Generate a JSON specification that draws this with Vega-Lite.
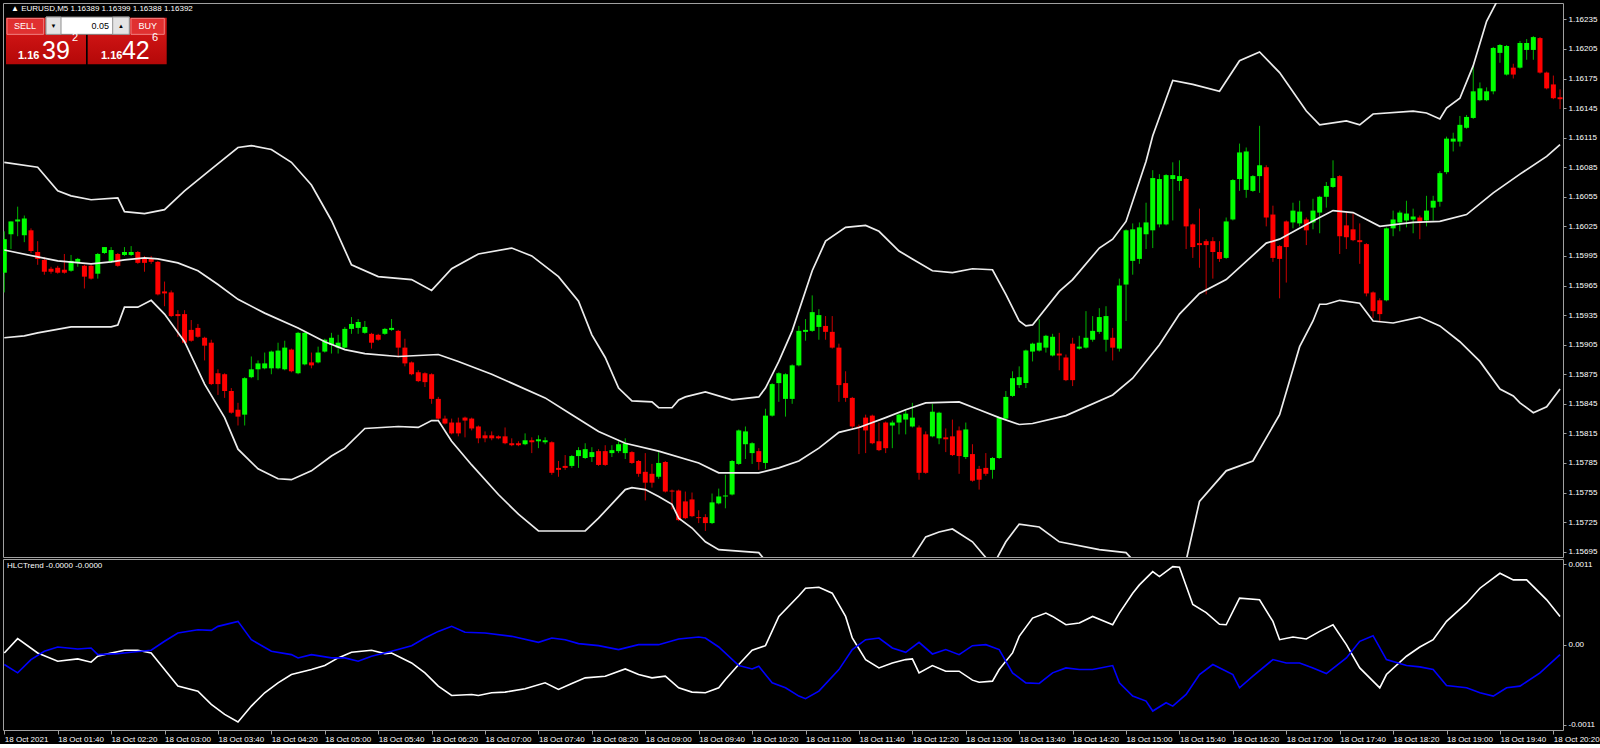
{
"$schema":"https://vega.github.io/schema/vega-lite/v6.json",
"background":"#000000",
"padding":{"left":2,"top":2,"right":0,"bottom":0},
"spacing":0,
"config":{
 "view":{"stroke":"#a0a0a0","strokeWidth":1},
 "scale":{"continuousPadding":0},
 "axis":{"labelFont":"Liberation Sans","labelFontSize":8,"labelColor":"#ffffff","tickColor":"#a0a0a0","domainColor":"#a0a0a0","grid":false,"labelOverlap":false,"labelFlush":false},
 "text":{"font":"Liberation Sans","color":"#ffffff"}
},
"datasets":{
"candles":[
{"t":"2021-10-18T01:00","o":1.15978,"h":1.16020,"l":1.15958,"c":1.16012},
{"t":"2021-10-18T01:05","o":1.16017,"h":1.16030,"l":1.16002,"c":1.16030},
{"t":"2021-10-18T01:10","o":1.16030,"h":1.16045,"l":1.16015,"c":1.16032},
{"t":"2021-10-18T01:15","o":1.16016,"h":1.16036,"l":1.16009,"c":1.16033},
{"t":"2021-10-18T01:20","o":1.16021,"h":1.16023,"l":1.15998,"c":1.16000},
{"t":"2021-10-18T01:25","o":1.15999,"h":1.16010,"l":1.15986,"c":1.15992},
{"t":"2021-10-18T01:30","o":1.15991,"h":1.15994,"l":1.15976,"c":1.15979},
{"t":"2021-10-18T01:35","o":1.15982,"h":1.15984,"l":1.15977,"c":1.15979},
{"t":"2021-10-18T01:40","o":1.15983,"h":1.15985,"l":1.15977,"c":1.15978},
{"t":"2021-10-18T01:45","o":1.15981,"h":1.15997,"l":1.15977,"c":1.15978},
{"t":"2021-10-18T01:50","o":1.15980,"h":1.15996,"l":1.15979,"c":1.15990},
{"t":"2021-10-18T01:55","o":1.15989,"h":1.15993,"l":1.15984,"c":1.15992},
{"t":"2021-10-18T02:00","o":1.15985,"h":1.15986,"l":1.15962,"c":1.15974},
{"t":"2021-10-18T02:05","o":1.15985,"h":1.15986,"l":1.15971,"c":1.15972},
{"t":"2021-10-18T02:10","o":1.15977,"h":1.15998,"l":1.15972,"c":1.15997},
{"t":"2021-10-18T02:15","o":1.15998,"h":1.16004,"l":1.15997,"c":1.16004},
{"t":"2021-10-18T02:20","o":1.15989,"h":1.16004,"l":1.15988,"c":1.16001},
{"t":"2021-10-18T02:25","o":1.15997,"h":1.15998,"l":1.15984,"c":1.15985},
{"t":"2021-10-18T02:30","o":1.15996,"h":1.16004,"l":1.15995,"c":1.15999},
{"t":"2021-10-18T02:35","o":1.15996,"h":1.16005,"l":1.15995,"c":1.15999},
{"t":"2021-10-18T02:40","o":1.15999,"h":1.16000,"l":1.15987,"c":1.15988},
{"t":"2021-10-18T02:45","o":1.15993,"h":1.15995,"l":1.15979,"c":1.15988},
{"t":"2021-10-18T02:50","o":1.15992,"h":1.15995,"l":1.15987,"c":1.15989},
{"t":"2021-10-18T02:55","o":1.15989,"h":1.15990,"l":1.15955,"c":1.15956},
{"t":"2021-10-18T03:00","o":1.15959,"h":1.15969,"l":1.15944,"c":1.15957},
{"t":"2021-10-18T03:05","o":1.15958,"h":1.15960,"l":1.15933,"c":1.15934},
{"t":"2021-10-18T03:10","o":1.15936,"h":1.15940,"l":1.15913,"c":1.15934},
{"t":"2021-10-18T03:15","o":1.15936,"h":1.15940,"l":1.15906,"c":1.15907},
{"t":"2021-10-18T03:20","o":1.15920,"h":1.15930,"l":1.15908,"c":1.15909},
{"t":"2021-10-18T03:25","o":1.15922,"h":1.15926,"l":1.15912,"c":1.15913},
{"t":"2021-10-18T03:30","o":1.15912,"h":1.15913,"l":1.15889,"c":1.15904},
{"t":"2021-10-18T03:35","o":1.15907,"h":1.15910,"l":1.15864,"c":1.15865},
{"t":"2021-10-18T03:40","o":1.15876,"h":1.15880,"l":1.15854,"c":1.15865},
{"t":"2021-10-18T03:45","o":1.15875,"h":1.15876,"l":1.15851,"c":1.15858},
{"t":"2021-10-18T03:50","o":1.15858,"h":1.15861,"l":1.15835,"c":1.15836},
{"t":"2021-10-18T03:55","o":1.15839,"h":1.15846,"l":1.15823,"c":1.15832},
{"t":"2021-10-18T04:00","o":1.15834,"h":1.15872,"l":1.15823,"c":1.15871},
{"t":"2021-10-18T04:05","o":1.15872,"h":1.15893,"l":1.15871,"c":1.15880},
{"t":"2021-10-18T04:10","o":1.15880,"h":1.15889,"l":1.15869,"c":1.15886},
{"t":"2021-10-18T04:15","o":1.15881,"h":1.15897,"l":1.15880,"c":1.15886},
{"t":"2021-10-18T04:20","o":1.15881,"h":1.15899,"l":1.15875,"c":1.15898},
{"t":"2021-10-18T04:25","o":1.15881,"h":1.15907,"l":1.15880,"c":1.15899},
{"t":"2021-10-18T04:30","o":1.15880,"h":1.15909,"l":1.15879,"c":1.15902},
{"t":"2021-10-18T04:35","o":1.15900,"h":1.15901,"l":1.15877,"c":1.15878},
{"t":"2021-10-18T04:40","o":1.15876,"h":1.15918,"l":1.15875,"c":1.15917},
{"t":"2021-10-18T04:45","o":1.15885,"h":1.15918,"l":1.15884,"c":1.15917},
{"t":"2021-10-18T04:50","o":1.15887,"h":1.15897,"l":1.15881,"c":1.15884},
{"t":"2021-10-18T04:55","o":1.15887,"h":1.15903,"l":1.15886,"c":1.15897},
{"t":"2021-10-18T05:00","o":1.15898,"h":1.15911,"l":1.15897,"c":1.15910},
{"t":"2021-10-18T05:05","o":1.15905,"h":1.15917,"l":1.15896,"c":1.15912},
{"t":"2021-10-18T05:10","o":1.15902,"h":1.15915,"l":1.15896,"c":1.15907},
{"t":"2021-10-18T05:15","o":1.15902,"h":1.15923,"l":1.15901,"c":1.15921},
{"t":"2021-10-18T05:20","o":1.15921,"h":1.15933,"l":1.15916,"c":1.15926},
{"t":"2021-10-18T05:25","o":1.15922,"h":1.15931,"l":1.15916,"c":1.15928},
{"t":"2021-10-18T05:30","o":1.15917,"h":1.15929,"l":1.15916,"c":1.15923},
{"t":"2021-10-18T05:35","o":1.15916,"h":1.15917,"l":1.15901,"c":1.15907},
{"t":"2021-10-18T05:40","o":1.15915,"h":1.15916,"l":1.15909,"c":1.15910},
{"t":"2021-10-18T05:45","o":1.15916,"h":1.15922,"l":1.15915,"c":1.15921},
{"t":"2021-10-18T05:50","o":1.15920,"h":1.15931,"l":1.15919,"c":1.15922},
{"t":"2021-10-18T05:55","o":1.15919,"h":1.15920,"l":1.15892,"c":1.15902},
{"t":"2021-10-18T06:00","o":1.15902,"h":1.15911,"l":1.15883,"c":1.15886},
{"t":"2021-10-18T06:05","o":1.15887,"h":1.15888,"l":1.15874,"c":1.15875},
{"t":"2021-10-18T06:10","o":1.15877,"h":1.15879,"l":1.15867,"c":1.15868},
{"t":"2021-10-18T06:15","o":1.15876,"h":1.15877,"l":1.15862,"c":1.15867},
{"t":"2021-10-18T06:20","o":1.15875,"h":1.15876,"l":1.15845,"c":1.15850},
{"t":"2021-10-18T06:25","o":1.15850,"h":1.15852,"l":1.15829,"c":1.15830},
{"t":"2021-10-18T06:30","o":1.15830,"h":1.15833,"l":1.15824,"c":1.15825},
{"t":"2021-10-18T06:35","o":1.15826,"h":1.15830,"l":1.15814,"c":1.15815},
{"t":"2021-10-18T06:40","o":1.15826,"h":1.15831,"l":1.15812,"c":1.15815},
{"t":"2021-10-18T06:45","o":1.15831,"h":1.15832,"l":1.15811,"c":1.15828},
{"t":"2021-10-18T06:50","o":1.15830,"h":1.15831,"l":1.15818,"c":1.15820},
{"t":"2021-10-18T06:55","o":1.15822,"h":1.15823,"l":1.15805,"c":1.15810},
{"t":"2021-10-18T07:00","o":1.15813,"h":1.15817,"l":1.15806,"c":1.15810},
{"t":"2021-10-18T07:05","o":1.15813,"h":1.15817,"l":1.15808,"c":1.15810},
{"t":"2021-10-18T07:10","o":1.15812,"h":1.15813,"l":1.15809,"c":1.15810},
{"t":"2021-10-18T07:15","o":1.15812,"h":1.15821,"l":1.15804,"c":1.15805},
{"t":"2021-10-18T07:20","o":1.15805,"h":1.15810,"l":1.15802,"c":1.15803},
{"t":"2021-10-18T07:25","o":1.15805,"h":1.15807,"l":1.15802,"c":1.15803},
{"t":"2021-10-18T07:30","o":1.15804,"h":1.15815,"l":1.15803,"c":1.15808},
{"t":"2021-10-18T07:35","o":1.15808,"h":1.15811,"l":1.15795,"c":1.15806},
{"t":"2021-10-18T07:40","o":1.15807,"h":1.15813,"l":1.15800,"c":1.15809},
{"t":"2021-10-18T07:45","o":1.15806,"h":1.15811,"l":1.15804,"c":1.15808},
{"t":"2021-10-18T07:50","o":1.15806,"h":1.15807,"l":1.15773,"c":1.15775},
{"t":"2021-10-18T07:55","o":1.15780,"h":1.15787,"l":1.15771,"c":1.15778},
{"t":"2021-10-18T08:00","o":1.15782,"h":1.15793,"l":1.15778,"c":1.15780},
{"t":"2021-10-18T08:05","o":1.15782,"h":1.15793,"l":1.15780,"c":1.15792},
{"t":"2021-10-18T08:10","o":1.15792,"h":1.15801,"l":1.15780,"c":1.15798},
{"t":"2021-10-18T08:15","o":1.15790,"h":1.15805,"l":1.15789,"c":1.15799},
{"t":"2021-10-18T08:20","o":1.15791,"h":1.15801,"l":1.15786,"c":1.15796},
{"t":"2021-10-18T08:25","o":1.15797,"h":1.15799,"l":1.15782,"c":1.15783},
{"t":"2021-10-18T08:30","o":1.15797,"h":1.15803,"l":1.15782,"c":1.15783},
{"t":"2021-10-18T08:35","o":1.15795,"h":1.15803,"l":1.15791,"c":1.15798},
{"t":"2021-10-18T08:40","o":1.15797,"h":1.15807,"l":1.15795,"c":1.15804},
{"t":"2021-10-18T08:45","o":1.15795,"h":1.15810,"l":1.15789,"c":1.15805},
{"t":"2021-10-18T08:50","o":1.15796,"h":1.15797,"l":1.15784,"c":1.15785},
{"t":"2021-10-18T08:55","o":1.15787,"h":1.15788,"l":1.15771,"c":1.15774},
{"t":"2021-10-18T09:00","o":1.15776,"h":1.15795,"l":1.15747,"c":1.15765},
{"t":"2021-10-18T09:05","o":1.15774,"h":1.15784,"l":1.15760,"c":1.15765},
{"t":"2021-10-18T09:10","o":1.15771,"h":1.15796,"l":1.15769,"c":1.15785},
{"t":"2021-10-18T09:15","o":1.15786,"h":1.15787,"l":1.15755,"c":1.15756},
{"t":"2021-10-18T09:20","o":1.15757,"h":1.15758,"l":1.15738,"c":1.15756},
{"t":"2021-10-18T09:25","o":1.15757,"h":1.15758,"l":1.15726,"c":1.15727},
{"t":"2021-10-18T09:30","o":1.15746,"h":1.15756,"l":1.15728,"c":1.15729},
{"t":"2021-10-18T09:35","o":1.15748,"h":1.15755,"l":1.15730,"c":1.15731},
{"t":"2021-10-18T09:40","o":1.15730,"h":1.15737,"l":1.15724,"c":1.15729},
{"t":"2021-10-18T09:45","o":1.15730,"h":1.15733,"l":1.15716,"c":1.15724},
{"t":"2021-10-18T09:50","o":1.15724,"h":1.15754,"l":1.15723,"c":1.15745},
{"t":"2021-10-18T09:55","o":1.15744,"h":1.15759,"l":1.15743,"c":1.15751},
{"t":"2021-10-18T10:00","o":1.15751,"h":1.15773,"l":1.15739,"c":1.15752},
{"t":"2021-10-18T10:05","o":1.15753,"h":1.15788,"l":1.15752,"c":1.15787},
{"t":"2021-10-18T10:10","o":1.15784,"h":1.15819,"l":1.15783,"c":1.15818},
{"t":"2021-10-18T10:15","o":1.15804,"h":1.15822,"l":1.15789,"c":1.15817},
{"t":"2021-10-18T10:20","o":1.15795,"h":1.15806,"l":1.15784,"c":1.15805},
{"t":"2021-10-18T10:25","o":1.15797,"h":1.15800,"l":1.15778,"c":1.15786},
{"t":"2021-10-18T10:30","o":1.15785,"h":1.15840,"l":1.15779,"c":1.15833},
{"t":"2021-10-18T10:35","o":1.15833,"h":1.15866,"l":1.15832,"c":1.15865},
{"t":"2021-10-18T10:40","o":1.15866,"h":1.15877,"l":1.15847,"c":1.15876},
{"t":"2021-10-18T10:45","o":1.15850,"h":1.15876,"l":1.15832,"c":1.15875},
{"t":"2021-10-18T10:50","o":1.15850,"h":1.15885,"l":1.15845,"c":1.15884},
{"t":"2021-10-18T10:55","o":1.15884,"h":1.15924,"l":1.15883,"c":1.15919},
{"t":"2021-10-18T11:00","o":1.15918,"h":1.15931,"l":1.15909,"c":1.15920},
{"t":"2021-10-18T11:05","o":1.15919,"h":1.15955,"l":1.15918,"c":1.15938},
{"t":"2021-10-18T11:10","o":1.15923,"h":1.15941,"l":1.15910,"c":1.15935},
{"t":"2021-10-18T11:15","o":1.15924,"h":1.15934,"l":1.15910,"c":1.15918},
{"t":"2021-10-18T11:20","o":1.15918,"h":1.15934,"l":1.15901,"c":1.15902},
{"t":"2021-10-18T11:25","o":1.15902,"h":1.15906,"l":1.15847,"c":1.15864},
{"t":"2021-10-18T11:30","o":1.15866,"h":1.15878,"l":1.15847,"c":1.15851},
{"t":"2021-10-18T11:35","o":1.15851,"h":1.15852,"l":1.15819,"c":1.15822},
{"t":"2021-10-18T11:40","o":1.15822,"h":1.15824,"l":1.15794,"c":1.15821},
{"t":"2021-10-18T11:45","o":1.15831,"h":1.15834,"l":1.15795,"c":1.15818},
{"t":"2021-10-18T11:50","o":1.15833,"h":1.15834,"l":1.15804,"c":1.15805},
{"t":"2021-10-18T11:55","o":1.15807,"h":1.15826,"l":1.15797,"c":1.15798},
{"t":"2021-10-18T12:00","o":1.15826,"h":1.15827,"l":1.15795,"c":1.15800},
{"t":"2021-10-18T12:05","o":1.15823,"h":1.15828,"l":1.15800,"c":1.15826},
{"t":"2021-10-18T12:10","o":1.15826,"h":1.15835,"l":1.15814,"c":1.15834},
{"t":"2021-10-18T12:15","o":1.15829,"h":1.15839,"l":1.15814,"c":1.15835},
{"t":"2021-10-18T12:20","o":1.15822,"h":1.15846,"l":1.15821,"c":1.15831},
{"t":"2021-10-18T12:25","o":1.15821,"h":1.15823,"l":1.15768,"c":1.15775},
{"t":"2021-10-18T12:30","o":1.15814,"h":1.15817,"l":1.15774,"c":1.15775},
{"t":"2021-10-18T12:35","o":1.15812,"h":1.15845,"l":1.15811,"c":1.15837},
{"t":"2021-10-18T12:40","o":1.15810,"h":1.15837,"l":1.15804,"c":1.15836},
{"t":"2021-10-18T12:45","o":1.15811,"h":1.15820,"l":1.15796,"c":1.15809},
{"t":"2021-10-18T12:50","o":1.15812,"h":1.15829,"l":1.15792,"c":1.15793},
{"t":"2021-10-18T12:55","o":1.15818,"h":1.15822,"l":1.15774,"c":1.15792},
{"t":"2021-10-18T13:00","o":1.15791,"h":1.15826,"l":1.15789,"c":1.15819},
{"t":"2021-10-18T13:05","o":1.15794,"h":1.15804,"l":1.15766,"c":1.15767},
{"t":"2021-10-18T13:10","o":1.15779,"h":1.15782,"l":1.15758,"c":1.15768},
{"t":"2021-10-18T13:15","o":1.15780,"h":1.15795,"l":1.15772,"c":1.15774},
{"t":"2021-10-18T13:20","o":1.15778,"h":1.15791,"l":1.15769,"c":1.15790},
{"t":"2021-10-18T13:25","o":1.15790,"h":1.15832,"l":1.15789,"c":1.15831},
{"t":"2021-10-18T13:30","o":1.15830,"h":1.15858,"l":1.15829,"c":1.15852},
{"t":"2021-10-18T13:35","o":1.15853,"h":1.15878,"l":1.15852,"c":1.15871},
{"t":"2021-10-18T13:40","o":1.15864,"h":1.15883,"l":1.15861,"c":1.15872},
{"t":"2021-10-18T13:45","o":1.15866,"h":1.15900,"l":1.15861,"c":1.15899},
{"t":"2021-10-18T13:50","o":1.15898,"h":1.15907,"l":1.15888,"c":1.15906},
{"t":"2021-10-18T13:55","o":1.15899,"h":1.15931,"l":1.15898,"c":1.15907},
{"t":"2021-10-18T14:00","o":1.15902,"h":1.15915,"l":1.15897,"c":1.15914},
{"t":"2021-10-18T14:05","o":1.15894,"h":1.15916,"l":1.15893,"c":1.15913},
{"t":"2021-10-18T14:10","o":1.15896,"h":1.15917,"l":1.15879,"c":1.15894},
{"t":"2021-10-18T14:15","o":1.15892,"h":1.15895,"l":1.15868,"c":1.15869},
{"t":"2021-10-18T14:20","o":1.15906,"h":1.15912,"l":1.15863,"c":1.15869},
{"t":"2021-10-18T14:25","o":1.15901,"h":1.15914,"l":1.15900,"c":1.15903},
{"t":"2021-10-18T14:30","o":1.15902,"h":1.15939,"l":1.15901,"c":1.15912},
{"t":"2021-10-18T14:35","o":1.15910,"h":1.15934,"l":1.15908,"c":1.15919},
{"t":"2021-10-18T14:40","o":1.15918,"h":1.15942,"l":1.15916,"c":1.15933},
{"t":"2021-10-18T14:45","o":1.15910,"h":1.15944,"l":1.15898,"c":1.15934},
{"t":"2021-10-18T14:50","o":1.15912,"h":1.15922,"l":1.15889,"c":1.15902},
{"t":"2021-10-18T14:55","o":1.15901,"h":1.15972,"l":1.15898,"c":1.15965},
{"t":"2021-10-18T15:00","o":1.15966,"h":1.16022,"l":1.15929,"c":1.16021},
{"t":"2021-10-18T15:05","o":1.15990,"h":1.16028,"l":1.15976,"c":1.16022},
{"t":"2021-10-18T15:10","o":1.15992,"h":1.16029,"l":1.15987,"c":1.16024},
{"t":"2021-10-18T15:15","o":1.16017,"h":1.16049,"l":1.16002,"c":1.16029},
{"t":"2021-10-18T15:20","o":1.16021,"h":1.16082,"l":1.16003,"c":1.16074},
{"t":"2021-10-18T15:25","o":1.16027,"h":1.16078,"l":1.16024,"c":1.16073},
{"t":"2021-10-18T15:30","o":1.16027,"h":1.16078,"l":1.16026,"c":1.16077},
{"t":"2021-10-18T15:35","o":1.16073,"h":1.16090,"l":1.16031,"c":1.16077},
{"t":"2021-10-18T15:40","o":1.16071,"h":1.16092,"l":1.16061,"c":1.16076},
{"t":"2021-10-18T15:45","o":1.16073,"h":1.16074,"l":1.16002,"c":1.16025},
{"t":"2021-10-18T15:50","o":1.16027,"h":1.16028,"l":1.15993,"c":1.16004},
{"t":"2021-10-18T15:55","o":1.16008,"h":1.16043,"l":1.15983,"c":1.16006},
{"t":"2021-10-18T16:00","o":1.16010,"h":1.16012,"l":1.15956,"c":1.16006},
{"t":"2021-10-18T16:05","o":1.16010,"h":1.16014,"l":1.15972,"c":1.15999},
{"t":"2021-10-18T16:10","o":1.15999,"h":1.16010,"l":1.15989,"c":1.15992},
{"t":"2021-10-18T16:15","o":1.15993,"h":1.16034,"l":1.15992,"c":1.16030},
{"t":"2021-10-18T16:20","o":1.16032,"h":1.16073,"l":1.16031,"c":1.16072},
{"t":"2021-10-18T16:25","o":1.16073,"h":1.16109,"l":1.16061,"c":1.16100},
{"t":"2021-10-18T16:30","o":1.16062,"h":1.16105,"l":1.16054,"c":1.16101},
{"t":"2021-10-18T16:35","o":1.16061,"h":1.16077,"l":1.16060,"c":1.16076},
{"t":"2021-10-18T16:40","o":1.16076,"h":1.16127,"l":1.16059,"c":1.16087},
{"t":"2021-10-18T16:45","o":1.16085,"h":1.16087,"l":1.16025,"c":1.16034},
{"t":"2021-10-18T16:50","o":1.16037,"h":1.16046,"l":1.15989,"c":1.15993},
{"t":"2021-10-18T16:55","o":1.16005,"h":1.16006,"l":1.15952,"c":1.15992},
{"t":"2021-10-18T17:00","o":1.16030,"h":1.16031,"l":1.15968,"c":1.16004},
{"t":"2021-10-18T17:05","o":1.16029,"h":1.16049,"l":1.16023,"c":1.16041},
{"t":"2021-10-18T17:10","o":1.16028,"h":1.16051,"l":1.16025,"c":1.16040},
{"t":"2021-10-18T17:15","o":1.16032,"h":1.16034,"l":1.16006,"c":1.16021},
{"t":"2021-10-18T17:20","o":1.16029,"h":1.16053,"l":1.16022,"c":1.16041},
{"t":"2021-10-18T17:25","o":1.16039,"h":1.16056,"l":1.16018,"c":1.16055},
{"t":"2021-10-18T17:30","o":1.16055,"h":1.16070,"l":1.16044,"c":1.16066},
{"t":"2021-10-18T17:35","o":1.16065,"h":1.16092,"l":1.16064,"c":1.16074},
{"t":"2021-10-18T17:40","o":1.16076,"h":1.16077,"l":1.15997,"c":1.16015},
{"t":"2021-10-18T17:45","o":1.16026,"h":1.16040,"l":1.16002,"c":1.16014},
{"t":"2021-10-18T17:50","o":1.16022,"h":1.16038,"l":1.16010,"c":1.16011},
{"t":"2021-10-18T17:55","o":1.16011,"h":1.16028,"l":1.15987,"c":1.16009},
{"t":"2021-10-18T18:00","o":1.16007,"h":1.16008,"l":1.15954,"c":1.15957},
{"t":"2021-10-18T18:05","o":1.15958,"h":1.15959,"l":1.15932,"c":1.15939},
{"t":"2021-10-18T18:10","o":1.15950,"h":1.15952,"l":1.15928,"c":1.15936},
{"t":"2021-10-18T18:15","o":1.15950,"h":1.16024,"l":1.15949,"c":1.16023},
{"t":"2021-10-18T18:20","o":1.16023,"h":1.16041,"l":1.16015,"c":1.16032},
{"t":"2021-10-18T18:25","o":1.16029,"h":1.16041,"l":1.16020,"c":1.16039},
{"t":"2021-10-18T18:30","o":1.16031,"h":1.16051,"l":1.16024,"c":1.16038},
{"t":"2021-10-18T18:35","o":1.16032,"h":1.16043,"l":1.16018,"c":1.16035},
{"t":"2021-10-18T18:40","o":1.16034,"h":1.16036,"l":1.16012,"c":1.16030},
{"t":"2021-10-18T18:45","o":1.16031,"h":1.16056,"l":1.16025,"c":1.16041},
{"t":"2021-10-18T18:50","o":1.16044,"h":1.16056,"l":1.16031,"c":1.16051},
{"t":"2021-10-18T18:55","o":1.16050,"h":1.16081,"l":1.16045,"c":1.16079},
{"t":"2021-10-18T19:00","o":1.16080,"h":1.16116,"l":1.16078,"c":1.16114},
{"t":"2021-10-18T19:05","o":1.16111,"h":1.16120,"l":1.16101,"c":1.16114},
{"t":"2021-10-18T19:10","o":1.16111,"h":1.16137,"l":1.16106,"c":1.16128},
{"t":"2021-10-18T19:15","o":1.16125,"h":1.16138,"l":1.16124,"c":1.16136},
{"t":"2021-10-18T19:20","o":1.16135,"h":1.16187,"l":1.16134,"c":1.16162},
{"t":"2021-10-18T19:25","o":1.16153,"h":1.16171,"l":1.16152,"c":1.16165},
{"t":"2021-10-18T19:30","o":1.16153,"h":1.16166,"l":1.16152,"c":1.16162},
{"t":"2021-10-18T19:35","o":1.16162,"h":1.16207,"l":1.16159,"c":1.16206},
{"t":"2021-10-18T19:40","o":1.16201,"h":1.16210,"l":1.16191,"c":1.16209},
{"t":"2021-10-18T19:45","o":1.16179,"h":1.16209,"l":1.16178,"c":1.16208},
{"t":"2021-10-18T19:50","o":1.16186,"h":1.16190,"l":1.16175,"c":1.16179},
{"t":"2021-10-18T19:55","o":1.16186,"h":1.16213,"l":1.16185,"c":1.16211},
{"t":"2021-10-18T20:00","o":1.16204,"h":1.16215,"l":1.16194,"c":1.16211},
{"t":"2021-10-18T20:05","o":1.16204,"h":1.16218,"l":1.16194,"c":1.16217},
{"t":"2021-10-18T20:10","o":1.16216,"h":1.16217,"l":1.16180,"c":1.16181},
{"t":"2021-10-18T20:15","o":1.16181,"h":1.16182,"l":1.16164,"c":1.16165},
{"t":"2021-10-18T20:20","o":1.16169,"h":1.16178,"l":1.16154,"c":1.16155},
{"t":"2021-10-18T20:25","o":1.16156,"h":1.16164,"l":1.16144,"c":1.16154}
],
"bands":[
{"t":"2021-10-18T01:00","b":"upper","v":1.16090},{"t":"2021-10-18T01:25","b":"upper","v":1.16085},{"t":"2021-10-18T01:40","b":"upper","v":1.16061},{"t":"2021-10-18T01:50","b":"upper","v":1.16056},{"t":"2021-10-18T02:05","b":"upper","v":1.16052},{"t":"2021-10-18T02:25","b":"upper","v":1.16054},{"t":"2021-10-18T02:30","b":"upper","v":1.16040},{"t":"2021-10-18T02:45","b":"upper","v":1.16038},{"t":"2021-10-18T03:00","b":"upper","v":1.16042},{"t":"2021-10-18T03:15","b":"upper","v":1.16061},{"t":"2021-10-18T03:35","b":"upper","v":1.16083},{"t":"2021-10-18T03:55","b":"upper","v":1.16105},{"t":"2021-10-18T04:05","b":"upper","v":1.16107},{"t":"2021-10-18T04:20","b":"upper","v":1.16103},{"t":"2021-10-18T04:35","b":"upper","v":1.16090},{"t":"2021-10-18T04:50","b":"upper","v":1.16067},{"t":"2021-10-18T05:05","b":"upper","v":1.16031},{"t":"2021-10-18T05:20","b":"upper","v":1.15986},{"t":"2021-10-18T05:40","b":"upper","v":1.15974},{"t":"2021-10-18T06:05","b":"upper","v":1.15971},{"t":"2021-10-18T06:20","b":"upper","v":1.15960},{"t":"2021-10-18T06:35","b":"upper","v":1.15982},{"t":"2021-10-18T06:55","b":"upper","v":1.15997},{"t":"2021-10-18T07:20","b":"upper","v":1.16003},{"t":"2021-10-18T07:35","b":"upper","v":1.15995},{"t":"2021-10-18T07:55","b":"upper","v":1.15974},{"t":"2021-10-18T08:10","b":"upper","v":1.15949},{"t":"2021-10-18T08:20","b":"upper","v":1.15915},{"t":"2021-10-18T08:30","b":"upper","v":1.15892},{"t":"2021-10-18T08:40","b":"upper","v":1.15861},{"t":"2021-10-18T08:50","b":"upper","v":1.15848},{"t":"2021-10-18T09:05","b":"upper","v":1.15847},{"t":"2021-10-18T09:10","b":"upper","v":1.15841},{"t":"2021-10-18T09:20","b":"upper","v":1.15841},{"t":"2021-10-18T09:25","b":"upper","v":1.15849},{"t":"2021-10-18T09:30","b":"upper","v":1.15852},{"t":"2021-10-18T09:45","b":"upper","v":1.15857},{"t":"2021-10-18T10:05","b":"upper","v":1.15849},{"t":"2021-10-18T10:25","b":"upper","v":1.15852},{"t":"2021-10-18T10:30","b":"upper","v":1.15861},{"t":"2021-10-18T10:40","b":"upper","v":1.15888},{"t":"2021-10-18T10:50","b":"upper","v":1.15919},{"t":"2021-10-18T11:05","b":"upper","v":1.15980},{"t":"2021-10-18T11:15","b":"upper","v":1.16010},{"t":"2021-10-18T11:30","b":"upper","v":1.16024},{"t":"2021-10-18T11:45","b":"upper","v":1.16026},{"t":"2021-10-18T11:55","b":"upper","v":1.16020},{"t":"2021-10-18T12:10","b":"upper","v":1.16000},{"t":"2021-10-18T12:20","b":"upper","v":1.15992},{"t":"2021-10-18T12:35","b":"upper","v":1.15980},{"t":"2021-10-18T12:50","b":"upper","v":1.15978},{"t":"2021-10-18T13:05","b":"upper","v":1.15982},{"t":"2021-10-18T13:20","b":"upper","v":1.15981},{"t":"2021-10-18T13:30","b":"upper","v":1.15956},{"t":"2021-10-18T13:40","b":"upper","v":1.15929},{"t":"2021-10-18T13:45","b":"upper","v":1.15924},{"t":"2021-10-18T13:50","b":"upper","v":1.15925},{"t":"2021-10-18T14:10","b":"upper","v":1.15959},{"t":"2021-10-18T14:20","b":"upper","v":1.15971},{"t":"2021-10-18T14:40","b":"upper","v":1.16003},{"t":"2021-10-18T14:50","b":"upper","v":1.16012},{"t":"2021-10-18T15:00","b":"upper","v":1.16030},{"t":"2021-10-18T15:15","b":"upper","v":1.16091},{"t":"2021-10-18T15:20","b":"upper","v":1.16117},{"t":"2021-10-18T15:35","b":"upper","v":1.16173},{"t":"2021-10-18T15:50","b":"upper","v":1.16169},{"t":"2021-10-18T16:10","b":"upper","v":1.16162},{"t":"2021-10-18T16:25","b":"upper","v":1.16193},{"t":"2021-10-18T16:40","b":"upper","v":1.16202},{"t":"2021-10-18T16:55","b":"upper","v":1.16181},{"t":"2021-10-18T17:15","b":"upper","v":1.16142},{"t":"2021-10-18T17:25","b":"upper","v":1.16128},{"t":"2021-10-18T17:45","b":"upper","v":1.16132},{"t":"2021-10-18T17:55","b":"upper","v":1.16128},{"t":"2021-10-18T18:05","b":"upper","v":1.16139},{"t":"2021-10-18T18:35","b":"upper","v":1.16142},{"t":"2021-10-18T18:45","b":"upper","v":1.16140},{"t":"2021-10-18T18:55","b":"upper","v":1.16134},{"t":"2021-10-18T19:00","b":"upper","v":1.16145},{"t":"2021-10-18T19:10","b":"upper","v":1.16155},{"t":"2021-10-18T19:20","b":"upper","v":1.16188},{"t":"2021-10-18T19:30","b":"upper","v":1.16233},{"t":"2021-10-18T19:40","b":"upper","v":1.16259},{"t":"2021-10-18T20:00","b":"upper","v":1.16314},{"t":"2021-10-18T20:25","b":"upper","v":1.16385},
{"t":"2021-10-18T01:00","b":"middle","v":1.16001},{"t":"2021-10-18T01:25","b":"middle","v":1.15994},{"t":"2021-10-18T01:40","b":"middle","v":1.15990},{"t":"2021-10-18T02:05","b":"middle","v":1.15987},{"t":"2021-10-18T02:20","b":"middle","v":1.15989},{"t":"2021-10-18T02:30","b":"middle","v":1.15991},{"t":"2021-10-18T02:45","b":"middle","v":1.15993},{"t":"2021-10-18T02:55","b":"middle","v":1.15992},{"t":"2021-10-18T03:10","b":"middle","v":1.15988},{"t":"2021-10-18T03:25","b":"middle","v":1.15980},{"t":"2021-10-18T03:40","b":"middle","v":1.15966},{"t":"2021-10-18T03:55","b":"middle","v":1.15951},{"t":"2021-10-18T04:15","b":"middle","v":1.15937},{"t":"2021-10-18T04:40","b":"middle","v":1.15922},{"t":"2021-10-18T05:00","b":"middle","v":1.15908},{"t":"2021-10-18T05:15","b":"middle","v":1.15900},{"t":"2021-10-18T05:30","b":"middle","v":1.15896},{"t":"2021-10-18T05:55","b":"middle","v":1.15893},{"t":"2021-10-18T06:25","b":"middle","v":1.15895},{"t":"2021-10-18T06:40","b":"middle","v":1.15888},{"t":"2021-10-18T07:05","b":"middle","v":1.15875},{"t":"2021-10-18T07:20","b":"middle","v":1.15866},{"t":"2021-10-18T07:45","b":"middle","v":1.15851},{"t":"2021-10-18T08:05","b":"middle","v":1.15834},{"t":"2021-10-18T08:25","b":"middle","v":1.15817},{"t":"2021-10-18T08:45","b":"middle","v":1.15805},{"t":"2021-10-18T09:10","b":"middle","v":1.15797},{"t":"2021-10-18T09:40","b":"middle","v":1.15785},{"t":"2021-10-18T09:55","b":"middle","v":1.15775},{"t":"2021-10-18T10:25","b":"middle","v":1.15775},{"t":"2021-10-18T10:40","b":"middle","v":1.15780},{"t":"2021-10-18T10:55","b":"middle","v":1.15787},{"t":"2021-10-18T11:10","b":"middle","v":1.15800},{"t":"2021-10-18T11:25","b":"middle","v":1.15816},{"t":"2021-10-18T11:40","b":"middle","v":1.15821},{"t":"2021-10-18T12:00","b":"middle","v":1.15831},{"t":"2021-10-18T12:15","b":"middle","v":1.15839},{"t":"2021-10-18T12:30","b":"middle","v":1.15846},{"t":"2021-10-18T12:55","b":"middle","v":1.15847},{"t":"2021-10-18T13:10","b":"middle","v":1.15839},{"t":"2021-10-18T13:25","b":"middle","v":1.15831},{"t":"2021-10-18T13:40","b":"middle","v":1.15824},{"t":"2021-10-18T13:50","b":"middle","v":1.15825},{"t":"2021-10-18T14:15","b":"middle","v":1.15833},{"t":"2021-10-18T14:50","b":"middle","v":1.15854},{"t":"2021-10-18T15:05","b":"middle","v":1.15871},{"t":"2021-10-18T15:25","b":"middle","v":1.15905},{"t":"2021-10-18T15:40","b":"middle","v":1.15936},{"t":"2021-10-18T15:55","b":"middle","v":1.15957},{"t":"2021-10-18T16:15","b":"middle","v":1.15971},{"t":"2021-10-18T16:45","b":"middle","v":1.16008},{"t":"2021-10-18T16:55","b":"middle","v":1.16012},{"t":"2021-10-18T17:15","b":"middle","v":1.16027},{"t":"2021-10-18T17:35","b":"middle","v":1.16041},{"t":"2021-10-18T17:50","b":"middle","v":1.16039},{"t":"2021-10-18T18:10","b":"middle","v":1.16025},{"t":"2021-10-18T18:35","b":"middle","v":1.16029},{"t":"2021-10-18T18:55","b":"middle","v":1.16030},{"t":"2021-10-18T19:15","b":"middle","v":1.16037},{"t":"2021-10-18T19:35","b":"middle","v":1.16059},{"t":"2021-10-18T19:55","b":"middle","v":1.16078},{"t":"2021-10-18T20:15","b":"middle","v":1.16096},{"t":"2021-10-18T20:25","b":"middle","v":1.16108},
{"t":"2021-10-18T01:00","b":"lower","v":1.15912},{"t":"2021-10-18T01:15","b":"lower","v":1.15914},{"t":"2021-10-18T01:25","b":"lower","v":1.15917},{"t":"2021-10-18T01:50","b":"lower","v":1.15923},{"t":"2021-10-18T02:20","b":"lower","v":1.15923},{"t":"2021-10-18T02:25","b":"lower","v":1.15925},{"t":"2021-10-18T02:30","b":"lower","v":1.15943},{"t":"2021-10-18T02:40","b":"lower","v":1.15943},{"t":"2021-10-18T02:50","b":"lower","v":1.15950},{"t":"2021-10-18T03:00","b":"lower","v":1.15936},{"t":"2021-10-18T03:15","b":"lower","v":1.15908},{"t":"2021-10-18T03:30","b":"lower","v":1.15865},{"t":"2021-10-18T03:45","b":"lower","v":1.15831},{"t":"2021-10-18T03:55","b":"lower","v":1.15799},{"t":"2021-10-18T04:10","b":"lower","v":1.15779},{"t":"2021-10-18T04:25","b":"lower","v":1.15769},{"t":"2021-10-18T04:35","b":"lower","v":1.15768},{"t":"2021-10-18T04:50","b":"lower","v":1.15777},{"t":"2021-10-18T05:05","b":"lower","v":1.15792},{"t":"2021-10-18T05:15","b":"lower","v":1.15800},{"t":"2021-10-18T05:30","b":"lower","v":1.15820},{"t":"2021-10-18T05:55","b":"lower","v":1.15822},{"t":"2021-10-18T06:10","b":"lower","v":1.15821},{"t":"2021-10-18T06:20","b":"lower","v":1.15828},{"t":"2021-10-18T06:25","b":"lower","v":1.15828},{"t":"2021-10-18T06:35","b":"lower","v":1.15807},{"t":"2021-10-18T06:50","b":"lower","v":1.15783},{"t":"2021-10-18T07:10","b":"lower","v":1.15753},{"t":"2021-10-18T07:25","b":"lower","v":1.15733},{"t":"2021-10-18T07:40","b":"lower","v":1.15716},{"t":"2021-10-18T08:15","b":"lower","v":1.15716},{"t":"2021-10-18T08:25","b":"lower","v":1.15729},{"t":"2021-10-18T08:45","b":"lower","v":1.15758},{"t":"2021-10-18T08:50","b":"lower","v":1.15760},{"t":"2021-10-18T09:00","b":"lower","v":1.15758},{"t":"2021-10-18T09:10","b":"lower","v":1.15751},{"t":"2021-10-18T09:20","b":"lower","v":1.15743},{"t":"2021-10-18T09:25","b":"lower","v":1.15729},{"t":"2021-10-18T09:35","b":"lower","v":1.15719},{"t":"2021-10-18T09:45","b":"lower","v":1.15705},{"t":"2021-10-18T09:55","b":"lower","v":1.15697},{"t":"2021-10-18T10:25","b":"lower","v":1.15694},{"t":"2021-10-18T10:55","b":"lower","v":1.15645},{"t":"2021-10-18T11:40","b":"lower","v":1.15645},{"t":"2021-10-18T12:20","b":"lower","v":1.15689},{"t":"2021-10-18T12:30","b":"lower","v":1.15710},{"t":"2021-10-18T12:40","b":"lower","v":1.15715},{"t":"2021-10-18T12:50","b":"lower","v":1.15718},{"t":"2021-10-18T13:05","b":"lower","v":1.15705},{"t":"2021-10-18T13:15","b":"lower","v":1.15689},{"t":"2021-10-18T13:20","b":"lower","v":1.15680},{"t":"2021-10-18T13:30","b":"lower","v":1.15705},{"t":"2021-10-18T13:40","b":"lower","v":1.15723},{"t":"2021-10-18T13:55","b":"lower","v":1.15720},{"t":"2021-10-18T14:10","b":"lower","v":1.15705},{"t":"2021-10-18T14:40","b":"lower","v":1.15697},{"t":"2021-10-18T15:00","b":"lower","v":1.15694},{"t":"2021-10-18T15:20","b":"lower","v":1.15665},{"t":"2021-10-18T15:45","b":"lower","v":1.15686},{"t":"2021-10-18T15:55","b":"lower","v":1.15746},{"t":"2021-10-18T16:15","b":"lower","v":1.15777},{"t":"2021-10-18T16:35","b":"lower","v":1.15787},{"t":"2021-10-18T16:55","b":"lower","v":1.15834},{"t":"2021-10-18T17:10","b":"lower","v":1.15903},{"t":"2021-10-18T17:20","b":"lower","v":1.15929},{"t":"2021-10-18T17:25","b":"lower","v":1.15946},{"t":"2021-10-18T17:30","b":"lower","v":1.15946},{"t":"2021-10-18T17:40","b":"lower","v":1.15950},{"t":"2021-10-18T17:55","b":"lower","v":1.15947},{"t":"2021-10-18T18:05","b":"lower","v":1.15929},{"t":"2021-10-18T18:20","b":"lower","v":1.15927},{"t":"2021-10-18T18:40","b":"lower","v":1.15933},{"t":"2021-10-18T18:55","b":"lower","v":1.15924},{"t":"2021-10-18T19:10","b":"lower","v":1.15908},{"t":"2021-10-18T19:25","b":"lower","v":1.15888},{"t":"2021-10-18T19:40","b":"lower","v":1.15860},{"t":"2021-10-18T19:50","b":"lower","v":1.15853},{"t":"2021-10-18T19:55","b":"lower","v":1.15846},{"t":"2021-10-18T20:05","b":"lower","v":1.15836},{"t":"2021-10-18T20:15","b":"lower","v":1.15842},{"t":"2021-10-18T20:25","b":"lower","v":1.15860}
],
"hlc":[
{"t":"2021-10-18T01:00","s":"w","v":-0.000114},{"t":"2021-10-18T01:10","s":"w","v":0.000082},{"t":"2021-10-18T01:25","s":"w","v":-0.000114},{"t":"2021-10-18T01:40","s":"w","v":-0.000228},{"t":"2021-10-18T01:55","s":"w","v":-0.000196},{"t":"2021-10-18T02:05","s":"w","v":-0.000241},{"t":"2021-10-18T02:10","s":"w","v":-0.000159},{"t":"2021-10-18T02:20","s":"w","v":-0.000114},{"t":"2021-10-18T02:30","s":"w","v":-0.000077},{"t":"2021-10-18T02:40","s":"w","v":-0.000077},{"t":"2021-10-18T02:50","s":"w","v":-0.000114},{"t":"2021-10-18T03:00","s":"w","v":-0.000342},{"t":"2021-10-18T03:10","s":"w","v":-0.000569},{"t":"2021-10-18T03:25","s":"w","v":-0.000638},{"t":"2021-10-18T03:35","s":"w","v":-0.00082},{"t":"2021-10-18T03:45","s":"w","v":-0.000957},{"t":"2021-10-18T03:55","s":"w","v":-0.001061},{"t":"2021-10-18T04:05","s":"w","v":-0.000843},{"t":"2021-10-18T04:15","s":"w","v":-0.00066},{"t":"2021-10-18T04:25","s":"w","v":-0.000524},{"t":"2021-10-18T04:35","s":"w","v":-0.00041},{"t":"2021-10-18T04:50","s":"w","v":-0.000342},{"t":"2021-10-18T05:00","s":"w","v":-0.000287},{"t":"2021-10-18T05:10","s":"w","v":-0.000182},{"t":"2021-10-18T05:20","s":"w","v":-0.000105},{"t":"2021-10-18T05:35","s":"w","v":-0.000077},{"t":"2021-10-18T05:45","s":"w","v":-0.000123},{"t":"2021-10-18T05:50","s":"w","v":-0.000114},{"t":"2021-10-18T06:05","s":"w","v":-0.000251},{"t":"2021-10-18T06:15","s":"w","v":-0.000387},{"t":"2021-10-18T06:25","s":"w","v":-0.000569},{"t":"2021-10-18T06:35","s":"w","v":-0.000697},{"t":"2021-10-18T06:50","s":"w","v":-0.000683},{"t":"2021-10-18T06:55","s":"w","v":-0.000697},{"t":"2021-10-18T07:05","s":"w","v":-0.00066},{"t":"2021-10-18T07:15","s":"w","v":-0.000651},{"t":"2021-10-18T07:30","s":"w","v":-0.000606},{"t":"2021-10-18T07:45","s":"w","v":-0.000524},{"t":"2021-10-18T07:55","s":"w","v":-0.000615},{"t":"2021-10-18T08:05","s":"w","v":-0.000533},{"t":"2021-10-18T08:15","s":"w","v":-0.000456},{"t":"2021-10-18T08:30","s":"w","v":-0.000433},{"t":"2021-10-18T08:45","s":"w","v":-0.000333},{"t":"2021-10-18T08:55","s":"w","v":-0.00041},{"t":"2021-10-18T09:05","s":"w","v":-0.000456},{"t":"2021-10-18T09:15","s":"w","v":-0.000433},{"t":"2021-10-18T09:25","s":"w","v":-0.000592},{"t":"2021-10-18T09:35","s":"w","v":-0.000651},{"t":"2021-10-18T09:45","s":"w","v":-0.00066},{"t":"2021-10-18T09:55","s":"w","v":-0.000592},{"t":"2021-10-18T10:00","s":"w","v":-0.000478},{"t":"2021-10-18T10:10","s":"w","v":-0.000273},{"t":"2021-10-18T10:20","s":"w","v":-0.000077},{"t":"2021-10-18T10:30","s":"w","v":-0.000014},{"t":"2021-10-18T10:40","s":"w","v":0.000387},{"t":"2021-10-18T10:55","s":"w","v":0.00067},{"t":"2021-10-18T11:00","s":"w","v":0.000774},{"t":"2021-10-18T11:10","s":"w","v":0.000788},{"t":"2021-10-18T11:20","s":"w","v":0.000706},{"t":"2021-10-18T11:30","s":"w","v":0.000387},{"t":"2021-10-18T11:35","s":"w","v":0.000091},{"t":"2021-10-18T11:45","s":"w","v":-0.000205},{"t":"2021-10-18T11:55","s":"w","v":-0.000319},{"t":"2021-10-18T12:05","s":"w","v":-0.000251},{"t":"2021-10-18T12:15","s":"w","v":-0.000205},{"t":"2021-10-18T12:20","s":"w","v":-0.000196},{"t":"2021-10-18T12:25","s":"w","v":-0.000387},{"t":"2021-10-18T12:35","s":"w","v":-0.000287},{"t":"2021-10-18T12:45","s":"w","v":-0.000364},{"t":"2021-10-18T12:55","s":"w","v":-0.000364},{"t":"2021-10-18T13:05","s":"w","v":-0.000487},{"t":"2021-10-18T13:10","s":"w","v":-0.000515},{"t":"2021-10-18T13:20","s":"w","v":-0.000501},{"t":"2021-10-18T13:25","s":"w","v":-0.000342},{"t":"2021-10-18T13:35","s":"w","v":-0.000114},{"t":"2021-10-18T13:40","s":"w","v":0.000114},{"t":"2021-10-18T13:50","s":"w","v":0.000364},{"t":"2021-10-18T14:00","s":"w","v":0.000433},{"t":"2021-10-18T14:05","s":"w","v":0.000387},{"t":"2021-10-18T14:15","s":"w","v":0.000273},{"t":"2021-10-18T14:25","s":"w","v":0.000296},{"t":"2021-10-18T14:35","s":"w","v":0.000387},{"t":"2021-10-18T14:50","s":"w","v":0.000273},{"t":"2021-10-18T14:55","s":"w","v":0.000433},{"t":"2021-10-18T15:05","s":"w","v":0.000706},{"t":"2021-10-18T15:10","s":"w","v":0.00082},{"t":"2021-10-18T15:20","s":"w","v":0.001002},{"t":"2021-10-18T15:25","s":"w","v":0.000934},{"t":"2021-10-18T15:35","s":"w","v":0.00107},{"t":"2021-10-18T15:40","s":"w","v":0.001061},{"t":"2021-10-18T15:50","s":"w","v":0.00055},{"t":"2021-10-18T16:00","s":"w","v":0.00044},{"t":"2021-10-18T16:10","s":"w","v":0.00028},{"t":"2021-10-18T16:15","s":"w","v":0.000273},{"t":"2021-10-18T16:25","s":"w","v":0.000638},{"t":"2021-10-18T16:40","s":"w","v":0.000615},{"t":"2021-10-18T16:50","s":"w","v":0.000319},{"t":"2021-10-18T16:55","s":"w","v":0.000068},{"t":"2021-10-18T17:05","s":"w","v":0.000105},{"t":"2021-10-18T17:15","s":"w","v":0.000077},{"t":"2021-10-18T17:25","s":"w","v":0.000182},{"t":"2021-10-18T17:35","s":"w","v":0.000273},{"t":"2021-10-18T17:45","s":"w","v":0},{"t":"2021-10-18T17:55","s":"w","v":-0.000319},{"t":"2021-10-18T18:10","s":"w","v":-0.000592},{"t":"2021-10-18T18:15","s":"w","v":-0.00041},{"t":"2021-10-18T18:30","s":"w","v":-0.000159},{"t":"2021-10-18T18:40","s":"w","v":-0.000032},{"t":"2021-10-18T18:50","s":"w","v":0.000068},{"t":"2021-10-18T19:00","s":"w","v":0.000319},{"t":"2021-10-18T19:15","s":"w","v":0.000569},{"t":"2021-10-18T19:25","s":"w","v":0.000774},{"t":"2021-10-18T19:40","s":"w","v":0.000979},{"t":"2021-10-18T19:50","s":"w","v":0.000888},{"t":"2021-10-18T20:00","s":"w","v":0.000888},{"t":"2021-10-18T20:15","s":"w","v":0.000615},{"t":"2021-10-18T20:25","s":"w","v":0.000387},
{"t":"2021-10-18T01:00","s":"b","v":-0.000273},{"t":"2021-10-18T01:10","s":"b","v":-0.000387},{"t":"2021-10-18T01:20","s":"b","v":-0.000205},{"t":"2021-10-18T01:30","s":"b","v":-0.000091},{"t":"2021-10-18T01:40","s":"b","v":-0.000032},{"t":"2021-10-18T01:55","s":"b","v":-0.000059},{"t":"2021-10-18T02:05","s":"b","v":-0.000046},{"t":"2021-10-18T02:10","s":"b","v":-0.000137},{"t":"2021-10-18T02:25","s":"b","v":-0.000123},{"t":"2021-10-18T02:35","s":"b","v":-0.000105},{"t":"2021-10-18T02:50","s":"b","v":-0.000077},{"t":"2021-10-18T03:00","s":"b","v":0.000046},{"t":"2021-10-18T03:10","s":"b","v":0.000159},{"t":"2021-10-18T03:25","s":"b","v":0.000205},{"t":"2021-10-18T03:35","s":"b","v":0.000196},{"t":"2021-10-18T03:40","s":"b","v":0.000251},{"t":"2021-10-18T03:55","s":"b","v":0.000319},{"t":"2021-10-18T04:05","s":"b","v":0.000068},{"t":"2021-10-18T04:20","s":"b","v":-0.000091},{"t":"2021-10-18T04:35","s":"b","v":-0.000137},{"t":"2021-10-18T04:40","s":"b","v":-0.000182},{"t":"2021-10-18T04:50","s":"b","v":-0.000137},{"t":"2021-10-18T05:05","s":"b","v":-0.000182},{"t":"2021-10-18T05:15","s":"b","v":-0.000182},{"t":"2021-10-18T05:25","s":"b","v":-0.000228},{"t":"2021-10-18T05:35","s":"b","v":-0.000159},{"t":"2021-10-18T05:50","s":"b","v":-0.000091},{"t":"2021-10-18T06:05","s":"b","v":-0.000014},{"t":"2021-10-18T06:15","s":"b","v":0.000091},{"t":"2021-10-18T06:25","s":"b","v":0.000182},{"t":"2021-10-18T06:35","s":"b","v":0.000251},{"t":"2021-10-18T06:45","s":"b","v":0.000169},{"t":"2021-10-18T07:00","s":"b","v":0.000159},{"t":"2021-10-18T07:20","s":"b","v":0.000114},{"t":"2021-10-18T07:40","s":"b","v":0.000032},{"t":"2021-10-18T07:50","s":"b","v":0.000091},{"t":"2021-10-18T08:00","s":"b","v":0.000068},{"t":"2021-10-18T08:10","s":"b","v":0.000014},{"t":"2021-10-18T08:25","s":"b","v":-0.000014},{"t":"2021-10-18T08:40","s":"b","v":-0.000068},{"t":"2021-10-18T08:55","s":"b","v":0},{"t":"2021-10-18T09:10","s":"b","v":0},{"t":"2021-10-18T09:25","s":"b","v":0.000077},{"t":"2021-10-18T09:40","s":"b","v":0.000105},{"t":"2021-10-18T09:45","s":"b","v":0.000091},{"t":"2021-10-18T09:55","s":"b","v":-0.000032},{"t":"2021-10-18T10:10","s":"b","v":-0.000287},{"t":"2021-10-18T10:20","s":"b","v":-0.000333},{"t":"2021-10-18T10:25","s":"b","v":-0.000296},{"t":"2021-10-18T10:35","s":"b","v":-0.000524},{"t":"2021-10-18T10:45","s":"b","v":-0.000592},{"t":"2021-10-18T10:55","s":"b","v":-0.000706},{"t":"2021-10-18T11:00","s":"b","v":-0.000742},{"t":"2021-10-18T11:10","s":"b","v":-0.000638},{"t":"2021-10-18T11:25","s":"b","v":-0.000342},{"t":"2021-10-18T11:35","s":"b","v":-0.000068},{"t":"2021-10-18T11:45","s":"b","v":0.000068},{"t":"2021-10-18T11:55","s":"b","v":0.000091},{"t":"2021-10-18T12:05","s":"b","v":-0.000046},{"t":"2021-10-18T12:15","s":"b","v":-0.000105},{"t":"2021-10-18T12:25","s":"b","v":0.000032},{"t":"2021-10-18T12:35","s":"b","v":-0.000128},{"t":"2021-10-18T12:45","s":"b","v":-0.000068},{"t":"2021-10-18T12:55","s":"b","v":-0.000137},{"t":"2021-10-18T13:05","s":"b","v":-0.000014},{"t":"2021-10-18T13:15","s":"b","v":0},{"t":"2021-10-18T13:25","s":"b","v":-0.000068},{"t":"2021-10-18T13:35","s":"b","v":-0.000387},{"t":"2021-10-18T13:45","s":"b","v":-0.000524},{"t":"2021-10-18T13:55","s":"b","v":-0.000533},{"t":"2021-10-18T14:05","s":"b","v":-0.000387},{"t":"2021-10-18T14:15","s":"b","v":-0.000319},{"t":"2021-10-18T14:25","s":"b","v":-0.000342},{"t":"2021-10-18T14:35","s":"b","v":-0.000342},{"t":"2021-10-18T14:50","s":"b","v":-0.000287},{"t":"2021-10-18T14:55","s":"b","v":-0.000524},{"t":"2021-10-18T15:05","s":"b","v":-0.000706},{"t":"2021-10-18T15:15","s":"b","v":-0.000774},{"t":"2021-10-18T15:20","s":"b","v":-0.000911},{"t":"2021-10-18T15:30","s":"b","v":-0.000797},{"t":"2021-10-18T15:35","s":"b","v":-0.000843},{"t":"2021-10-18T15:45","s":"b","v":-0.000683},{"t":"2021-10-18T15:55","s":"b","v":-0.00041},{"t":"2021-10-18T16:05","s":"b","v":-0.000273},{"t":"2021-10-18T16:20","s":"b","v":-0.00041},{"t":"2021-10-18T16:25","s":"b","v":-0.000592},{"t":"2021-10-18T16:35","s":"b","v":-0.000433},{"t":"2021-10-18T16:50","s":"b","v":-0.000205},{"t":"2021-10-18T17:00","s":"b","v":-0.000251},{"t":"2021-10-18T17:10","s":"b","v":-0.000251},{"t":"2021-10-18T17:20","s":"b","v":-0.000319},{"t":"2021-10-18T17:30","s":"b","v":-0.000396},{"t":"2021-10-18T17:45","s":"b","v":-0.000182},{"t":"2021-10-18T17:55","s":"b","v":0.000046},{"t":"2021-10-18T18:05","s":"b","v":0.000123},{"t":"2021-10-18T18:15","s":"b","v":-0.000205},{"t":"2021-10-18T18:30","s":"b","v":-0.000287},{"t":"2021-10-18T18:40","s":"b","v":-0.000305},{"t":"2021-10-18T18:50","s":"b","v":-0.000342},{"t":"2021-10-18T19:00","s":"b","v":-0.00056},{"t":"2021-10-18T19:15","s":"b","v":-0.000592},{"t":"2021-10-18T19:25","s":"b","v":-0.00066},{"t":"2021-10-18T19:35","s":"b","v":-0.000706},{"t":"2021-10-18T19:45","s":"b","v":-0.000592},{"t":"2021-10-18T19:55","s":"b","v":-0.000569},{"t":"2021-10-18T20:10","s":"b","v":-0.000387},{"t":"2021-10-18T20:25","s":"b","v":-0.000137}
]
},
"vconcat":[
{"width":1560,"height":554,
 "resolve":{"axis":{"x":"independent","y":"independent"}},
 "layer":[
  {"data":{"name":"candles"},"mark":{"type":"rule","strokeWidth":1,"clip":true},
   "encoding":{
    "x":{"field":"t","type":"temporal","scale":{"domain":[{"year":2021,"month":"Oct","date":18,"hours":0,"minutes":59,"seconds":2},{"year":2021,"month":"Oct","date":18,"hours":20,"minutes":27,"seconds":13}],"nice":false,"padding":0},"axis":null},
    "y":{"field":"l","type":"quantitative","scale":{"domain":[1.156896,1.162516],"zero":false,"nice":false,"padding":0},
     "axis":{"orient":"right","title":null,"values":[1.15695,1.15725,1.15755,1.15785,1.15815,1.15845,1.15875,1.15905,1.15935,1.15965,1.15995,1.16025,1.16055,1.16085,1.16115,1.16145,1.16175,1.16205,1.16235],"format":".5f","tickSize":3,"labelPadding":2,"domain":false}},
    "y2":{"field":"h"},
    "color":{"condition":{"test":"datum.c >= datum.o","value":"#00b400"},"value":"#c80000"}}},
  {"data":{"name":"candles"},"mark":{"type":"bar","size":5,"clip":true},
   "encoding":{
    "x":{"field":"t","type":"temporal","axis":null},
    "y":{"field":"o","type":"quantitative","axis":null},
    "y2":{"field":"c"},
    "color":{"condition":{"test":"datum.c >= datum.o","value":"#00ff00"},"value":"#ff0000"}}},
  {"data":{"name":"bands"},"mark":{"type":"line","clip":true,"strokeWidth":1.7,"color":"#ececec"},
   "encoding":{
    "x":{"field":"t","type":"temporal","axis":null},
    "y":{"field":"v","type":"quantitative","axis":null},
    "detail":{"field":"b","type":"nominal"}}},
  {"data":{"values":[{}]},"mark":{"type":"rect","clip":true,"color":{"gradient":"linear","x1":0,"y1":0,"x2":0,"y2":1,"stops":[{"offset":0,"color":"#dc1a1a"},{"offset":1,"color":"#b40808"}]}},
   "encoding":{
    "x":{"datum":{"year":2021,"month":"Oct","date":18,"hours":1,"minutes":1,"seconds":16},"type":"temporal","axis":null},
    "x2":{"datum":{"year":2021,"month":"Oct","date":18,"hours":2,"minutes":1,"seconds":11}},
    "y":{"datum":1.162366,"type":"quantitative","axis":null},
    "y2":{"datum":1.161894}}},
  {"data":{"values":[{}]},"mark":{"type":"rect","clip":true,"color":{"gradient":"linear","x1":0,"y1":0,"x2":0,"y2":1,"stops":[{"offset":0,"color":"#dc1a1a"},{"offset":1,"color":"#b40808"}]}},
   "encoding":{
    "x":{"datum":{"year":2021,"month":"Oct","date":18,"hours":2,"minutes":2,"seconds":27},"type":"temporal","axis":null},
    "x2":{"datum":{"year":2021,"month":"Oct","date":18,"hours":3,"minutes":1,"seconds":37}},
    "y":{"datum":1.162366,"type":"quantitative","axis":null},
    "y2":{"datum":1.161894}}},
  {"data":{"values":[{}]},"mark":{"type":"rect","color":"#e03030","stroke":"#f08080","strokeWidth":1,"clip":true},
   "encoding":{
    "x":{"datum":{"year":2021,"month":"Oct","date":18,"hours":1,"minutes":2,"seconds":1},"type":"temporal","axis":null},
    "x2":{"datum":{"year":2021,"month":"Oct","date":18,"hours":1,"minutes":29,"seconds":30}},
    "y":{"datum":1.16236,"type":"quantitative","axis":null},
    "y2":{"datum":1.162198}}},
  {"data":{"values":[{}]},"mark":{"type":"rect","color":"#e03030","stroke":"#f08080","strokeWidth":1,"clip":true},
   "encoding":{
    "x":{"datum":{"year":2021,"month":"Oct","date":18,"hours":2,"minutes":34,"seconds":53},"type":"temporal","axis":null},
    "x2":{"datum":{"year":2021,"month":"Oct","date":18,"hours":2,"minutes":59,"seconds":49}},
    "y":{"datum":1.16236,"type":"quantitative","axis":null},
    "y2":{"datum":1.162198}}},
  {"data":{"values":[{}]},"mark":{"type":"rect","color":"#ffffff","stroke":"#808080","strokeWidth":1,"clip":true},
   "encoding":{
    "x":{"datum":{"year":2021,"month":"Oct","date":18,"hours":1,"minutes":31,"seconds":14},"type":"temporal","axis":null},
    "x2":{"datum":{"year":2021,"month":"Oct","date":18,"hours":2,"minutes":33,"seconds":36}},
    "y":{"datum":1.162374,"type":"quantitative","axis":null},
    "y2":{"datum":1.162198}}},
  {"data":{"values":[{}]},"mark":{"type":"rect","color":"#e4e4e4","stroke":"#909090","strokeWidth":1,"clip":true},
   "encoding":{
    "x":{"datum":{"year":2021,"month":"Oct","date":18,"hours":1,"minutes":31,"seconds":14},"type":"temporal","axis":null},
    "x2":{"datum":{"year":2021,"month":"Oct","date":18,"hours":1,"minutes":42,"seconds":28}},
    "y":{"datum":1.162374,"type":"quantitative","axis":null},
    "y2":{"datum":1.162198}}},
  {"data":{"values":[{}]},"mark":{"type":"rect","color":"#e4e4e4","stroke":"#909090","strokeWidth":1,"clip":true},
   "encoding":{
    "x":{"datum":{"year":2021,"month":"Oct","date":18,"hours":2,"minutes":21,"seconds":10},"type":"temporal","axis":null},
    "x2":{"datum":{"year":2021,"month":"Oct","date":18,"hours":2,"minutes":33,"seconds":36}},
    "y":{"datum":1.162374,"type":"quantitative","axis":null},
    "y2":{"datum":1.162198}}},
  {"data":{"values":[{}]},"mark":{"type":"text","align":"center","baseline":"middle","fontSize":6,"color":"#000000","clip":true,"text":"▼"},
   "encoding":{
    "x":{"datum":{"year":2021,"month":"Oct","date":18,"hours":1,"minutes":36,"seconds":50},"type":"temporal","axis":null},
    "y":{"datum":1.162286,"type":"quantitative","axis":null}}},
  {"data":{"values":[{}]},"mark":{"type":"text","align":"center","baseline":"middle","fontSize":6,"color":"#000000","clip":true,"text":"▲"},
   "encoding":{
    "x":{"datum":{"year":2021,"month":"Oct","date":18,"hours":2,"minutes":27,"seconds":23},"type":"temporal","axis":null},
    "y":{"datum":1.162286,"type":"quantitative","axis":null}}},
  {"data":{"values":[{}]},"mark":{"type":"text","align":"left","baseline":"middle","fontSize":8,"clip":true,"text":"▲ EURUSD,M5 1.16389 1.16399 1.16388 1.16392"},
   "encoding":{
    "x":{"datum":{"year":2021,"month":"Oct","date":18,"hours":1,"minutes":5,"seconds":1},"type":"temporal","axis":null},
    "y":{"datum":1.162455,"type":"quantitative","axis":null}}},
  {"data":{"values":[{}]},"mark":{"type":"text","align":"center","baseline":"middle","fontSize":9,"clip":true,"text":"SELL"},
   "encoding":{
    "x":{"datum":{"year":2021,"month":"Oct","date":18,"hours":1,"minutes":15,"seconds":30},"type":"temporal","axis":null},
    "y":{"datum":1.162282,"type":"quantitative","axis":null}}},
  {"data":{"values":[{}]},"mark":{"type":"text","align":"center","baseline":"middle","fontSize":9,"clip":true,"text":"BUY"},
   "encoding":{
    "x":{"datum":{"year":2021,"month":"Oct","date":18,"hours":2,"minutes":47,"seconds":23},"type":"temporal","axis":null},
    "y":{"datum":1.162282,"type":"quantitative","axis":null}}},
  {"data":{"values":[{}]},"mark":{"type":"text","align":"right","baseline":"middle","fontSize":9,"color":"#000000","clip":true,"text":"0.05"},
   "encoding":{
    "x":{"datum":{"year":2021,"month":"Oct","date":18,"hours":2,"minutes":18,"seconds":24},"type":"temporal","axis":null},
    "y":{"datum":1.162282,"type":"quantitative","axis":null}}},
  {"data":{"values":[{}]},"mark":{"type":"text","align":"left","baseline":"alphabetic","fontSize":11,"fontWeight":"bold","clip":true,"text":"1.16"},
   "encoding":{
    "x":{"datum":{"year":2021,"month":"Oct","date":18,"hours":1,"minutes":10,"seconds":16},"type":"temporal","axis":null},
    "y":{"datum":1.16195,"type":"quantitative","axis":null}}},
  {"data":{"values":[{}]},"mark":{"type":"text","align":"left","baseline":"alphabetic","fontSize":25,"clip":true,"text":"39"},
   "encoding":{
    "x":{"datum":{"year":2021,"month":"Oct","date":18,"hours":1,"minutes":28,"seconds":14},"type":"temporal","axis":null},
    "y":{"datum":1.16195,"type":"quantitative","axis":null}}},
  {"data":{"values":[{}]},"mark":{"type":"text","align":"left","baseline":"alphabetic","fontSize":11,"clip":true,"text":"2"},
   "encoding":{
    "x":{"datum":{"year":2021,"month":"Oct","date":18,"hours":1,"minutes":50,"seconds":42},"type":"temporal","axis":null},
    "y":{"datum":1.16213,"type":"quantitative","axis":null}}},
  {"data":{"values":[{}]},"mark":{"type":"text","align":"left","baseline":"alphabetic","fontSize":11,"fontWeight":"bold","clip":true,"text":"1.16"},
   "encoding":{
    "x":{"datum":{"year":2021,"month":"Oct","date":18,"hours":2,"minutes":12,"seconds":25},"type":"temporal","axis":null},
    "y":{"datum":1.16195,"type":"quantitative","axis":null}}},
  {"data":{"values":[{}]},"mark":{"type":"text","align":"left","baseline":"alphabetic","fontSize":25,"clip":true,"text":"42"},
   "encoding":{
    "x":{"datum":{"year":2021,"month":"Oct","date":18,"hours":2,"minutes":28,"seconds":6},"type":"temporal","axis":null},
    "y":{"datum":1.16195,"type":"quantitative","axis":null}}},
  {"data":{"values":[{}]},"mark":{"type":"text","align":"left","baseline":"alphabetic","fontSize":11,"clip":true,"text":"6"},
   "encoding":{
    "x":{"datum":{"year":2021,"month":"Oct","date":18,"hours":2,"minutes":50,"seconds":36},"type":"temporal","axis":null},
    "y":{"datum":1.16213,"type":"quantitative","axis":null}}}
 ]},
{"width":1560,"height":171,
 "resolve":{"axis":{"x":"independent","y":"independent"}},
 "layer":[
  {"data":{"name":"hlc"},"mark":{"type":"line","strokeWidth":1.6,"clip":true},
   "encoding":{
    "x":{"field":"t","type":"temporal","scale":{"domain":[{"year":2021,"month":"Oct","date":18,"hours":0,"minutes":59,"seconds":2},{"year":2021,"month":"Oct","date":18,"hours":20,"minutes":27,"seconds":13}],"nice":false,"padding":0},
     "axis":{"orient":"bottom","title":null,"values":[
      {"year":2021,"month":"Oct","date":18,"hours":1,"minutes":0},{"year":2021,"month":"Oct","date":18,"hours":1,"minutes":40},{"year":2021,"month":"Oct","date":18,"hours":2,"minutes":20},{"year":2021,"month":"Oct","date":18,"hours":3,"minutes":0},{"year":2021,"month":"Oct","date":18,"hours":3,"minutes":40},{"year":2021,"month":"Oct","date":18,"hours":4,"minutes":20},{"year":2021,"month":"Oct","date":18,"hours":5,"minutes":0},{"year":2021,"month":"Oct","date":18,"hours":5,"minutes":40},{"year":2021,"month":"Oct","date":18,"hours":6,"minutes":20},{"year":2021,"month":"Oct","date":18,"hours":7,"minutes":0},{"year":2021,"month":"Oct","date":18,"hours":7,"minutes":40},{"year":2021,"month":"Oct","date":18,"hours":8,"minutes":20},{"year":2021,"month":"Oct","date":18,"hours":9,"minutes":0},{"year":2021,"month":"Oct","date":18,"hours":9,"minutes":40},{"year":2021,"month":"Oct","date":18,"hours":10,"minutes":20},{"year":2021,"month":"Oct","date":18,"hours":11,"minutes":0},{"year":2021,"month":"Oct","date":18,"hours":11,"minutes":40},{"year":2021,"month":"Oct","date":18,"hours":12,"minutes":20},{"year":2021,"month":"Oct","date":18,"hours":13,"minutes":0},{"year":2021,"month":"Oct","date":18,"hours":13,"minutes":40},{"year":2021,"month":"Oct","date":18,"hours":14,"minutes":20},{"year":2021,"month":"Oct","date":18,"hours":15,"minutes":0},{"year":2021,"month":"Oct","date":18,"hours":15,"minutes":40},{"year":2021,"month":"Oct","date":18,"hours":16,"minutes":20},{"year":2021,"month":"Oct","date":18,"hours":17,"minutes":0},{"year":2021,"month":"Oct","date":18,"hours":17,"minutes":40},{"year":2021,"month":"Oct","date":18,"hours":18,"minutes":20},{"year":2021,"month":"Oct","date":18,"hours":19,"minutes":0},{"year":2021,"month":"Oct","date":18,"hours":19,"minutes":40},{"year":2021,"month":"Oct","date":18,"hours":20,"minutes":20}],
      "labelExpr":"hours(datum.value) == 1 && minutes(datum.value) == 0 ? '18 Oct 2021' : timeFormat(datum.value, '%d %b %H:%M')",
      "labelAlign":"left","labelBaseline":"top","labelPadding":1,"tickSize":4,"domain":false}},
    "y":{"field":"v","type":"quantitative","scale":{"domain":[-0.001171,0.001175],"zero":false,"nice":false,"padding":0},
     "axis":{"orient":"right","title":null,"values":[-0.0011,0,0.0011],"labelExpr":"datum.value > 0.0005 ? '0.0011' : (datum.value < -0.0005 ? '-0.0011' : '0.00')","tickSize":3,"labelPadding":2,"domain":false}},
    "color":{"field":"s","type":"nominal","scale":{"domain":["w","b"],"range":["#ffffff","#0000ff"]},"legend":null}}},
  {"data":{"values":[{}]},"mark":{"type":"text","align":"left","baseline":"middle","fontSize":8,"clip":true,"text":"HLCTrend -0.0000 -0.0000"},
   "encoding":{
    "x":{"datum":{"year":2021,"month":"Oct","date":18,"hours":1,"minutes":2,"seconds":1},"type":"temporal","axis":null},
    "y":{"datum":0.001084,"type":"quantitative","axis":null}}}
 ]}
]
}
